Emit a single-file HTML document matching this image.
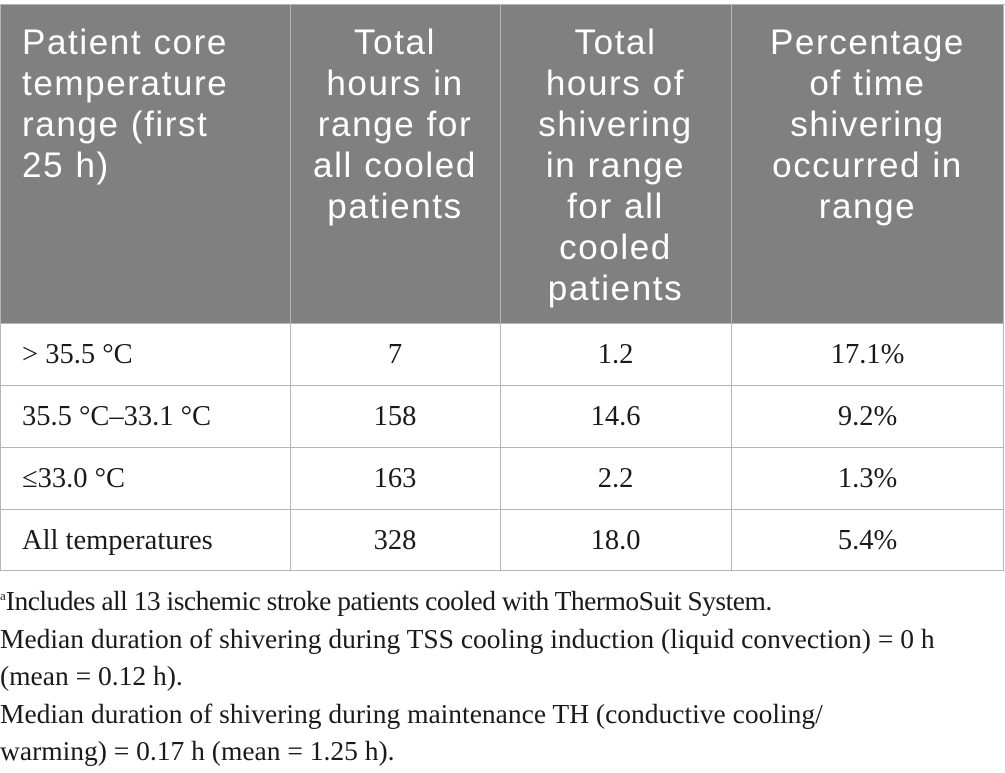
<!DOCTYPE html>
<html><head><meta charset="utf-8">
<style>
body{margin:0;width:1005px;height:773px;background:#fff;position:relative;overflow:hidden}
.b{position:absolute;background:#b5b5b5}
.hd{position:absolute;background:#808080;left:0;top:4px;width:1004px;height:319px}
.ht{position:absolute;top:22px;color:#fff;font-family:"Liberation Sans",sans-serif;font-size:35px;letter-spacing:1.6px;line-height:41px;white-space:nowrap}
.c{text-align:center}
.cell{position:absolute;font-family:"Liberation Serif",serif;font-size:28.5px;color:#1a1a1a;white-space:nowrap;line-height:62px}
.fn{position:absolute;left:0;top:577px;font-family:"Liberation Serif",serif;font-size:27.5px;line-height:37.5px;color:#1a1a1a;white-space:nowrap}
</style></head><body>
<div class="hd"></div>
<div class="ht" style="left:22px">Patient core<br>temperature<br>range (first<br>25 h)</div>
<div class="ht c" style="left:290px;width:210px">Total<br>hours in<br>range for<br>all cooled<br>patients</div>
<div class="ht c" style="left:500px;width:231px">Total<br>hours of<br>shivering<br>in range<br>for all<br>cooled<br>patients</div>
<div class="ht c" style="left:731px;width:273px">Percentage<br>of time<br>shivering<br>occurred in<br>range</div>
<div class="b" style="left:0;top:4px;width:1005px;height:1px"></div>
<div class="b" style="left:0;top:4px;width:1px;height:567px"></div>
<div class="b" style="left:1003px;top:4px;width:1px;height:567px"></div>
<div class="b" style="left:290px;top:4px;width:1px;height:567px"></div>
<div class="b" style="left:500px;top:4px;width:1px;height:567px"></div>
<div class="b" style="left:731px;top:4px;width:1px;height:567px"></div>
<div class="b" style="left:0;top:323px;width:1004px;height:1px"></div>
<div class="b" style="left:0;top:385px;width:1004px;height:1px"></div>
<div class="b" style="left:0;top:447px;width:1004px;height:1px"></div>
<div class="b" style="left:0;top:509px;width:1004px;height:1px"></div>
<div class="b" style="left:0;top:570px;width:1004px;height:1px"></div>
<div>
<div class="cell" style="left:22px;top:324px">&gt; 35.5 °C</div>
<div class="cell c" style="left:290px;width:210px;top:324px">7</div>
<div class="cell c" style="left:500px;width:231px;top:324px">1.2</div>
<div class="cell c" style="left:731px;width:273px;top:324px">17.1%</div>
</div>
<div>
<div class="cell" style="left:22px;top:386px">35.5 °C–33.1 °C</div>
<div class="cell c" style="left:290px;width:210px;top:386px">158</div>
<div class="cell c" style="left:500px;width:231px;top:386px">14.6</div>
<div class="cell c" style="left:731px;width:273px;top:386px">9.2%</div>
</div>
<div>
<div class="cell" style="left:22px;top:448px">≤33.0 °C</div>
<div class="cell c" style="left:290px;width:210px;top:448px">163</div>
<div class="cell c" style="left:500px;width:231px;top:448px">2.2</div>
<div class="cell c" style="left:731px;width:273px;top:448px">1.3%</div>
</div>
<div>
<div class="cell" style="left:22px;top:510px">All temperatures</div>
<div class="cell c" style="left:290px;width:210px;top:510px">328</div>
<div class="cell c" style="left:500px;width:231px;top:510px">18.0</div>
<div class="cell c" style="left:731px;width:273px;top:510px">5.4%</div>
</div>
<div class="fn"><sup style="font-size:13px">a</sup><span style="letter-spacing:-0.5px">Includes all 13 ischemic stroke patients cooled with ThermoSuit System.</span><br>Median duration of shivering during TSS cooling induction (liquid convection) = 0 h<br>(mean = 0.12 h).<br>Median duration of shivering during maintenance TH (conductive cooling/<br>warming) = 0.17 h (mean = 1.25 h).</div>
</body></html>
